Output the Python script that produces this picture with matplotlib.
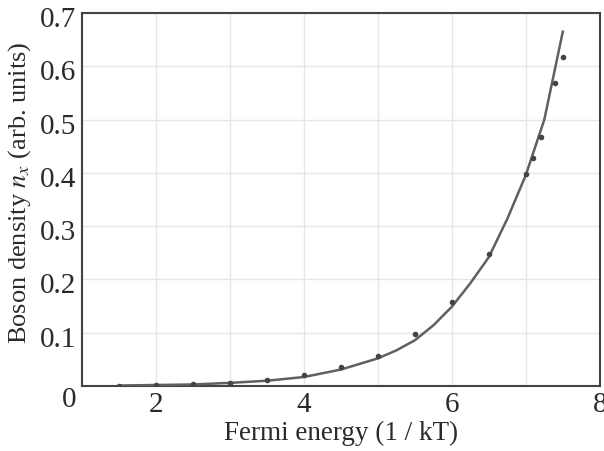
import matplotlib
matplotlib.use("Agg")
import matplotlib.pyplot as plt
from matplotlib.transforms import ScaledTranslation

# Datos
x_puntos = [1.5, 2.0, 2.5, 3.0, 3.5, 4.0, 4.5, 5.0, 5.5, 6.0, 6.5, 7.0, 7.1, 7.2, 7.4, 7.5]
y_puntos = [0.001, 0.002, 0.003, 0.006, 0.011, 0.021, 0.035, 0.057, 0.097, 0.158, 0.248,
            0.398, 0.428, 0.468, 0.568, 0.618]

x_curva = [1.5, 2.0, 2.5, 3.0, 3.5, 4.0, 4.5, 5.0, 5.25, 5.5, 5.75, 6.0, 6.25, 6.5,
           6.75, 7.0, 7.25, 7.5]
y_curva = [0.001, 0.002, 0.003, 0.006, 0.010, 0.017, 0.031, 0.052, 0.067, 0.086, 0.114,
           0.149, 0.193, 0.242, 0.314, 0.396, 0.500, 0.665]

x_ticks = [2, 4, 6, 8]
y_ticks = [0, 0.1, 0.2, 0.3, 0.4, 0.5, 0.6, 0.7]
y_ticklabels = ["0", "0.1", "0.2", "0.3", "0.4", "0.5", "0.6", "0.7"]

plt.rcParams['font.family'] = ['Liberation Serif', 'DejaVu Serif']
plt.rcParams['mathtext.fontset'] = 'stix'

fig = plt.figure(figsize=(6.04, 4.51), dpi=100)
ax = fig.add_axes([0.136, 0.144, 0.857, 0.827])

ax.plot(x_curva, y_curva, color='#606060', linewidth=1.8, zorder=3)
ax.plot(x_puntos, y_puntos, linestyle='none', marker='o', markersize=3,
        color='#444444', zorder=4)

ax.set_xlim(1, 8)
ax.set_ylim(0, 0.7)
ax.set_xticks(x_ticks)
ax.set_xticks([1, 3, 5, 7], minor=True)
ax.set_yticks(y_ticks)
ax.set_yticklabels(y_ticklabels)
ax.grid(True, which='both', color='#e6e6e6', linewidth=1.0)
ax.set_axisbelow(True)
ax.tick_params(axis='both', which='both', length=0, labelsize=21, colors='#2a2a2a')
ax.tick_params(axis='y', pad=4)
ax.tick_params(axis='x', pad=4)

# etiquetas del eje y un poco por debajo de la linea, el "0" mas abajo
for i, lab in enumerate(ax.get_yticklabels()):
    dy = -11 if i == 0 else -4
    lab.set_transform(lab.get_transform() + ScaledTranslation(0, dy / 100, fig.dpi_scale_trans))

for s in ax.spines.values():
    s.set_color('#444444')
    s.set_linewidth(1.5)

ax.set_xlabel('Fermi energy (1 / kT)', fontsize=19.5, color='#2a2a2a', labelpad=2)
ax.set_ylabel('Boson density $n_x$ (arb. units)', fontsize=19, color='#2a2a2a')
ax.yaxis.set_label_coords(-0.094, 0.517)

fig.savefig('out.png', dpi=100)
